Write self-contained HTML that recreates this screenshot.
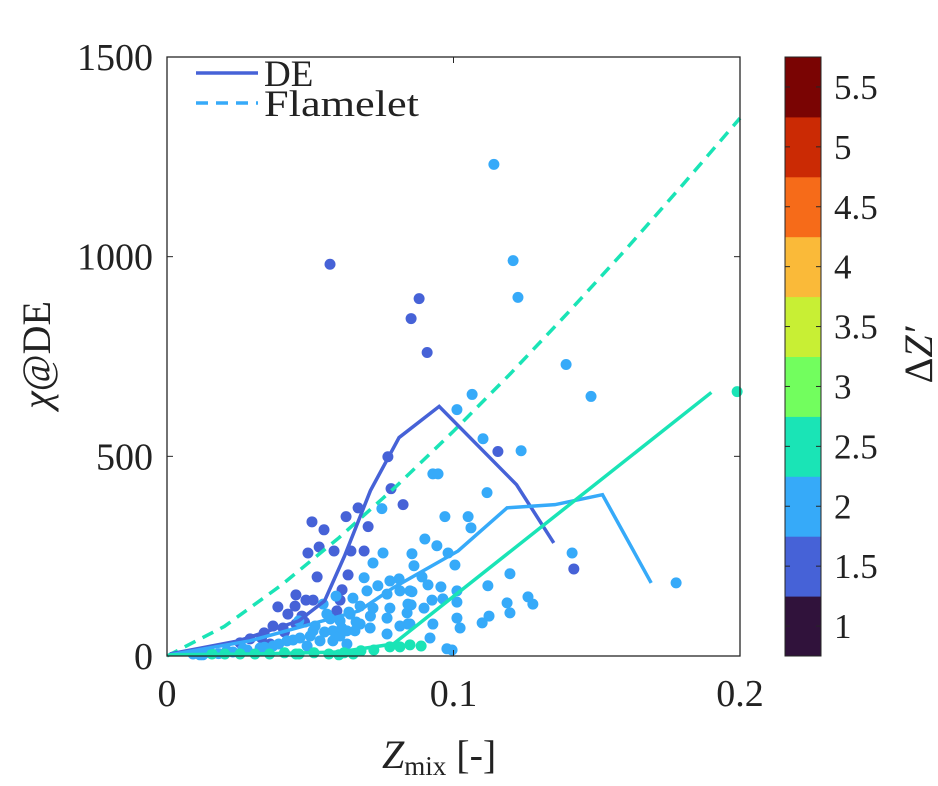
<!DOCTYPE html>
<html><head><meta charset="utf-8"><style>
body{margin:0;background:#fff;}
svg text{font-family:"Liberation Serif","DejaVu Serif",serif;fill:#222;}
</style></head><body>
<svg id="chart" width="938" height="781" viewBox="0 0 938 781" xmlns="http://www.w3.org/2000/svg">
<g id="marks"></g>
<g id="axes"></g>
</svg>
<script>
// ---- data ----
const xTicks=[0,0.1,0.2];
const xTickLabels=["0","0.1","0.2"];
const yTicks=[0,500,1000,1500];
const yTickLabels=["0","500","1000","1500"];
const cbTicks=[1,1.5,2,2.5,3,3.5,4,4.5,5,5.5];
const cbTickLabels=["1","1.5","2","2.5","3","3.5","4","4.5","5","5.5"];
const cbColors=["#30123b","#4662d7","#36aaf9","#1ae4b6","#72fe5e","#c8ef34","#faba39","#f66b19","#cb2a04","#7a0403"];
// DE lines
const deDarkZ=[0.001,0.025,0.046,0.055,0.062,0.071,0.081,0.095,0.122,0.135];
const deDarkV=[5,38,88,138,251,414,547,625,429,283];
const deLightZ=[0.001,0.029,0.067,0.079,0.1016,0.1187,0.1354,0.152,0.169];
const deLightV=[3,38,113,171,263,371,379,404,183];
const deTealZ=[0.001,0.03,0.06,0.079,0.19];
const deTealV=[3,5,10,30,660];
// Flamelet
const flZ=[0,0.02,0.04,0.06,0.08,0.1,0.12,0.14,0.16,0.18,0.2];
const flV=[0,74,178,296,425,563,708,860,1017,1180,1347];
// scatter (dZ'=1.5)
const darkZ=[0.0569,0.088,0.0852,0.0908,0.0771,0.0782,0.0824,0.0667,0.0625,0.0702,0.0506,0.0548,0.0492,0.0531,0.0583,0.0642,0.0688,0.0524,0.0632,0.0611,0.045,0.0485,0.051,0.0387,0.0422,0.0447,0.0471,0.045,0.037,0.0339,0.0405,0.0604,0.0593,0.1155,0.142,0.029,0.0255,0.033,0.041,0.048,0.036];
const darkV=[981,895,845,760,499,419,379,371,349,324,336,316,258,273,263,263,263,198,203,166,153,140,140,123,105,125,100,80,75,58,70,140,113,512,218,43,33,45,60,85,30];
// scatter (dZ'=2)
const lightZ=[0.1141,0.1208,0.1225,0.1393,0.148,0.1065,0.1012,0.1103,0.1236,0.0928,0.0946,0.1117,0.097,0.1051,0.1061,0.09,0.0942,0.0981,0.0855,0.1005,0.0862,0.089,0.0911,0.0956,0.112,0.1197,0.1414,0.1777,0.0855,0.1012,0.0963,0.0925,0.1012,0.126,0.1277,0.1187,0.1197,0.0852,0.0897,0.0838,0.1124,0.11,0.1012,0.1023,0.0928,0.0841,0.0918,0.0977,0.0995,0.075,0.0754,0.0719,0.0688,0.0778,0.081,0.0736,0.0649,0.0698,0.0768,0.0813,0.0848,0.0674,0.0719,0.0778,0.0841,0.0768,0.0709,0.0768,0.0813,0.0848,0.0558,0.0604,0.0639,0.0579,0.0628,0.0674,0.051,0.0534,0.0464,0.0419,0.037,0.0325,0.0265,0.0209,0.015,0.0091,0.0115,0.0579,0.0489,0.0628,0.0517,0.046,0.057,0.0656,0.0604,0.0125,0.018,0.023,0.028,0.034,0.039,0.044,0.05,0.055,0.061,0.066,0.071,0.0545,0.059,0.0635];
const lightV=[1231,990,898,730,650,655,617,544,514,456,456,409,349,349,321,293,276,258,256,228,226,198,178,173,176,206,258,183,161,163,143,140,135,148,130,133,108,128,120,108,100,83,95,70,80,80,45,18,15,369,258,233,196,188,193,176,145,163,155,163,163,125,120,120,130,95,70,55,75,80,105,88,105,63,63,80,63,38,45,38,25,20,18,13,8,5,3,38,25,30,75,88,93,63,50,3,6,10,15,22,30,40,50,60,70,85,100,130,150,110];
// scatter (dZ'=2.5)
const tealZ=[0.199,0.0887,0.0157,0.0202,0.0255,0.0307,0.0358,0.041,0.0461,0.0513,0.0565,0.0618,0.0677,0.0722,0.0778,0.0813,0.0848,0.045,0.065,0.06];
const tealV=[662,25,5,5,5,5,5,8,5,8,5,8,13,15,23,23,28,5,5,3];

// ---- axes functions ----
const X0=167,X1=740,Y0=656,Y1=57;
const xs=z=>X0+(z-0)/(0.2)*(X1-X0);
const ys=v=>Y0-(v-0)/1500*(Y0-Y1);
const CB0=0.75,CB1=5.75,CBX=785,CBW=36;
const cby=v=>Y0-(v-CB0)/(CB1-CB0)*(Y0-Y1);
const NS="http://www.w3.org/2000/svg";
function mk(tag,attrs,parent){const e=document.createElementNS(NS,tag);for(const k in attrs)e.setAttribute(k,attrs[k]);parent.appendChild(e);return e;}
const marks=document.getElementById('marks'), axes=document.getElementById('axes');

function scatter(Z,V,col,name){
  const g=mk('g',{},marks);
  
  
  Z.forEach((z,i)=>{const c=mk('circle',{cx:xs(z),cy:ys(V[i]),r:5.5,fill:col},g);
    
    });
}
function line(Z,V,col,name,dash){
  const p=mk('polyline',{points:Z.map((z,i)=>xs(z)+','+ys(V[i])).join(' '),fill:'none',stroke:col,'stroke-width':3.5,'stroke-dasharray':dash||'none'},marks);
  
  
}
scatter(darkZ,darkV,cbColors[1],'scatter-dz-1-5');
scatter(lightZ,lightV,cbColors[2],'scatter-dz-2');
scatter(tealZ,tealV,cbColors[3],'scatter-dz-2-5');
line(flZ,flV,cbColors[3],'flamelet-line','12,8');
line(deDarkZ,deDarkV,cbColors[1],'de-line-dz-1-5');
line(deLightZ,deLightV,cbColors[2],'de-line-dz-2');
line(deTealZ,deTealV,cbColors[3],'de-line-dz-2-5');

// frame
const fr=mk('rect',{x:X0,y:Y1,width:X1-X0,height:Y0-Y1,fill:'none',stroke:'#262626','stroke-width':1.3},axes);

xTicks.forEach((t,i)=>{const x=xs(t);
  mk('line',{x1:x,x2:x,y1:Y0,y2:Y0-6,stroke:'#262626'},axes);
  mk('line',{x1:x,x2:x,y1:Y1,y2:Y1+6,stroke:'#262626'},axes);
  const tx=mk('text',{x:x,y:706,'font-size':38,'text-anchor':'middle'},axes);tx.textContent=xTickLabels[i];
  });
yTicks.forEach((t,i)=>{const y=ys(t);
  mk('line',{x1:X0,x2:X0+6,y1:y,y2:y,stroke:'#262626'},axes);
  mk('line',{x1:X1,x2:X1-6,y1:y,y2:y,stroke:'#262626'},axes);
  const tx=mk('text',{x:153,y:y+13,'font-size':38,'text-anchor':'end'},axes);tx.textContent=yTickLabels[i];
  });
// colorbar
const cb=mk('g',{},axes);

cbColors.forEach((c,i)=>{mk('rect',{x:CBX,y:cby(CB0+0.5*(i+1)),width:CBW,height:cby(CB0+0.5*i)-cby(CB0+0.5*(i+1))+0.5,fill:c},cb);});
mk('rect',{x:CBX,y:Y1,width:CBW,height:Y0-Y1,fill:'none',stroke:'#262626','stroke-width':1},cb);
cbTicks.forEach((t,i)=>{const y=cby(t);
  mk('line',{x1:CBX,x2:CBX+5,y1:y,y2:y,stroke:'#262626'},cb);
  mk('line',{x1:CBX+CBW,x2:CBX+CBW-5,y1:y,y2:y,stroke:'#262626'},cb);
  const tx=mk('text',{x:834,y:y+12,'font-size':35},cb);tx.textContent=cbTickLabels[i];
  });
</script>
<svg style="position:absolute;left:0;top:0" width="938" height="781" xmlns="http://www.w3.org/2000/svg">
<g>
<line x1="196" y1="73" x2="258" y2="73" stroke="#4662d7" stroke-width="3.5"/>
<text x="264" y="86" font-size="37">DE</text>
<line x1="196" y1="103" x2="258" y2="103" stroke="#36aaf9" stroke-width="3.5" stroke-dasharray="12,8"/>
<text x="264" y="116" font-size="37" textLength="155" lengthAdjust="spacingAndGlyphs">Flamelet</text>
</g>
<text x="382" y="768" font-size="40"><tspan font-style="italic">Z</tspan><tspan font-size="27" dy="7">mix</tspan><tspan dy="-7">  [-]</tspan></text>
<text transform="translate(50,355) rotate(-90)" text-anchor="middle" font-size="40"><tspan font-style="italic">χ</tspan>@DE</text>
<text transform="translate(932,355) rotate(-90)" text-anchor="middle" font-size="40">Δ<tspan font-style="italic">Z′</tspan></text>
</svg>
</body></html>
